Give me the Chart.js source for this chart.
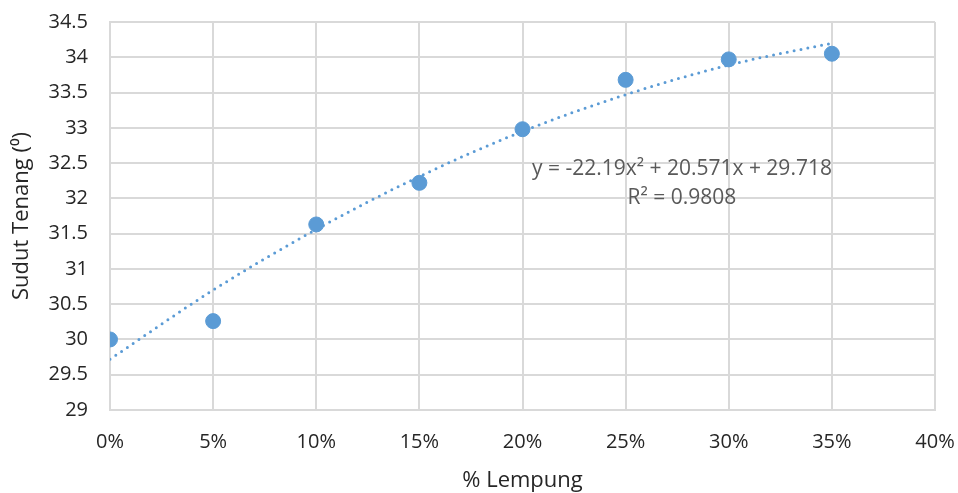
<!DOCTYPE html>
<html>
<head>
<meta charset="utf-8">
<script src="https://cdn.jsdelivr.net/npm/chart.js@4"></script>
<style>
  html, body { margin: 0; padding: 0; background: #fff; }
  #wrap { width: 958px; height: 493px; }
</style>
</head>
<body>
<div id="wrap"><canvas id="myChart" width="958" height="493"></canvas></div>
<script>
// data
var lempung = [0, 0.05, 0.10, 0.15, 0.20, 0.25, 0.30, 0.35];
var sudut = [30.0, 30.26, 31.63, 32.22, 32.98, 33.68, 33.97, 34.05];
// dotted trendline, read at each 5% step
var trendX = [0, 0.05, 0.10, 0.15, 0.20, 0.25, 0.30, 0.35];
var trendY = [29.72, 30.70, 31.56, 32.31, 32.95, 33.47, 33.89, 34.20];
var equationLines = ['y = -22.19x\u00B2 + 20.571x + 29.718', 'R\u00B2 = 0.9808'];

var blue = '#5B9BD5';
var grid = '#D9D9D9';
var fontFam = '"Open Sans", Lato, sans-serif';

var equationPlugin = {
    id: 'equation',
    afterDatasetsDraw: function(chart) {
        var c = chart.ctx;
        var xs = chart.scales.x, ys = chart.scales.y;
        c.save();
        c.font = '21px ' + fontFam;
        c.fillStyle = '#595959';
        c.textAlign = 'center';
        c.textBaseline = 'middle';
        var cx = xs.getPixelForValue(0.2773);
        c.fillText(equationLines[0], cx, ys.getPixelForValue(32.42));
        c.fillText(equationLines[1], cx, ys.getPixelForValue(32.00));
        c.restore();
    }
};

var ctx = document.getElementById('myChart').getContext('2d');
var chart = new Chart(ctx, {
    type: 'scatter',
    data: {
        datasets: [{
            label: 'Trendline',
            type: 'line',
            data: trendX.map(function(x, i) { return {x: x, y: trendY[i]}; }),
            borderColor: blue,
            borderWidth: 3,
            borderDash: [0, 7],
            borderCapStyle: 'round',
            cubicInterpolationMode: 'monotone',
            pointRadius: 0,
            fill: false,
            order: 2
        },
        {
            label: 'Sudut Tenang',
            data: lempung.map(function(x, i) { return {x: x, y: sudut[i]}; }),
            backgroundColor: blue,
            borderColor: blue,
            pointRadius: 7.5,
            order: 1
        }]
    },
    options: {
        responsive: false,
        animation: false,
        layout: { padding: { left: 0, right: 23, top: 22, bottom: 0 } },
        plugins: {
            legend: { display: false },
            tooltip: { enabled: false }
        },
        scales: {
            x: {
                type: 'linear',
                min: 0,
                max: 0.40,
                grid: { color: grid, lineWidth: 2, drawTicks: false },
                border: { color: grid, width: 2 },
                ticks: {
                    stepSize: 0.05,
                    padding: 20,
                    color: '#262626',
                    font: { family: fontFam, size: 20 },
                    callback: function(v) { return Math.round(v * 100) + '%'; }
                },
                title: {
                    display: true,
                    text: '% Lempung',
                    color: '#262626',
                    font: { family: fontFam, size: 22, lineHeight: 1.1 },
                    padding: { top: 10, bottom: 0 }
                },
                afterFit: function(s) {
                    s.height = 83;
                    s.paddingLeft = 0;
                    s.paddingRight = 0;
                }
            },
            y: {
                min: 29,
                max: 34.5,
                grid: { color: grid, lineWidth: 2, drawTicks: false },
                border: { color: grid, width: 2 },
                ticks: {
                    stepSize: 0.5,
                    padding: 22,
                    color: '#262626',
                    font: { family: fontFam, size: 20 },
                    callback: function(v) { return String(Math.round(v * 10) / 10); }
                },
                title: {
                    display: true,
                    text: 'Sudut Tenang (\u2070)',
                    color: '#262626',
                    font: { family: fontFam, size: 22 },
                    padding: { bottom: 0, top: 9 }
                },
                afterFit: function(s) {
                    s.width = 110;
                    s.paddingTop = 0;
                    s.paddingBottom = 0;
                }
            }
        }
    },
    plugins: [equationPlugin]
});
</script>
</body>
</html>
